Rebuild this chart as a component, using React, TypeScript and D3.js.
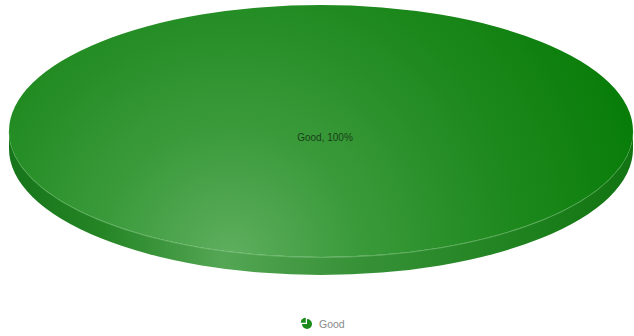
import React from "react";
import * as d3 from "d3";

const categories = ["Good"];
const values = [100];
const colors = ["#1a8a1a"];

const W = 634;
const H = 336;

export default function App() {
  const cx = 321;
  const cy = 131;
  const rx = 312;
  const ry = 126;
  const depth = 18;

  const total = d3.sum(values);
  const pie = d3.pie<number>().sort(null).value((d) => d)(values);
  const sx = d3.scaleLinear().domain([-1, 1]).range([cx - rx, cx + rx]);
  const sy = d3.scaleLinear().domain([-1, 1]).range([cy - ry, cy + ry]);

  const topPaths = pie.map((p) => {
    const span = p.endAngle - p.startAngle;
    if (span >= Math.PI * 2 - 1e-6) {
      return `M${sx(-1)},${sy(0)} A${rx},${ry} 0 1 0 ${sx(1)},${sy(0)} A${rx},${ry} 0 1 0 ${sx(-1)},${sy(0)} Z`;
    }
    const a0 = p.startAngle - Math.PI / 2;
    const a1 = p.endAngle - Math.PI / 2;
    return `M${cx},${cy} L${sx(Math.cos(a0))},${sy(Math.sin(a0))} A${rx},${ry} 0 ${span > Math.PI ? 1 : 0} 1 ${sx(Math.cos(a1))},${sy(Math.sin(a1))} Z`;
  });

  const sidePath = `M${sx(-1)},${sy(0)} L${sx(-1)},${sy(0) + depth} A${rx},${ry} 0 0 0 ${sx(1)},${sy(0) + depth} L${sx(1)},${sy(0)} A${rx},${ry} 0 0 1 ${sx(-1)},${sy(0)} Z`;

  const iconArc = d3.arc<any>().innerRadius(0).outerRadius(5);
  const iconPie = d3.pie<number>().sort(null)([3, 1]);

  return (
    <svg width={W} height={H} style={{ position: "absolute", left: 0, top: 0 }}>
      <defs>
        <radialGradient id="topGrad" gradientUnits="userSpaceOnUse" cx={230} cy={255} r={430} fx={230} fy={255}>
          <stop offset="0%" stopColor="#5eae5e" />
          <stop offset="30%" stopColor="#3a9a3a" />
          <stop offset="65%" stopColor="#1e891e" />
          <stop offset="100%" stopColor="#077c07" />
        </radialGradient>
        <linearGradient id="sideGrad" gradientUnits="userSpaceOnUse" x1={cx - rx} y1={0} x2={cx + rx} y2={0}>
          <stop offset="0%" stopColor="#16751a" />
          <stop offset="15%" stopColor="#258525" />
          <stop offset="34%" stopColor="#54a654" />
          <stop offset="55%" stopColor="#389238" />
          <stop offset="85%" stopColor="#1c801c" />
          <stop offset="100%" stopColor="#117311" />
        </linearGradient>
      </defs>
      <path d={sidePath} fill="url(#sideGrad)" />
      <path
        d={`M${sx(-1)},${sy(0) + 0.5} A${rx},${ry} 0 0 0 ${sx(1)},${sy(0) + 0.5}`}
        fill="none"
        stroke="#7cc47c"
        strokeOpacity={0.6}
        strokeWidth={1}
      />
      {topPaths.map((d, i) => (
        <path key={i} d={d} fill="url(#topGrad)" />
      ))}
      {pie.map((p, i) => (
        <text
          key={i}
          x={cx + 4}
          y={cy + 10}
          textAnchor="middle"
          fontFamily="Liberation Sans, Arial, sans-serif"
          fontSize={10}
          fill="#1a3f1a"
        >
          {`${categories[i]}, ${Math.round((values[i] / total) * 100)}%`}
        </text>
      ))}
      <g transform="translate(307,324)">
        {iconPie.map((p, i) => {
          const mid = (p.startAngle + p.endAngle) / 2;
          const off = i === 1 ? 1.8 : 0;
          return (
            <path
              key={i}
              d={iconArc(p) as string}
              fill={colors[0]}
              transform={`translate(${Math.sin(mid) * off},${-Math.cos(mid) * off})`}
            />
          );
        })}
      </g>
      <text x={319} y={328} fontFamily="Liberation Sans, Arial, sans-serif" fontSize={10.5} fill="#888">
        {categories[0]}
      </text>
    </svg>
  );
}
